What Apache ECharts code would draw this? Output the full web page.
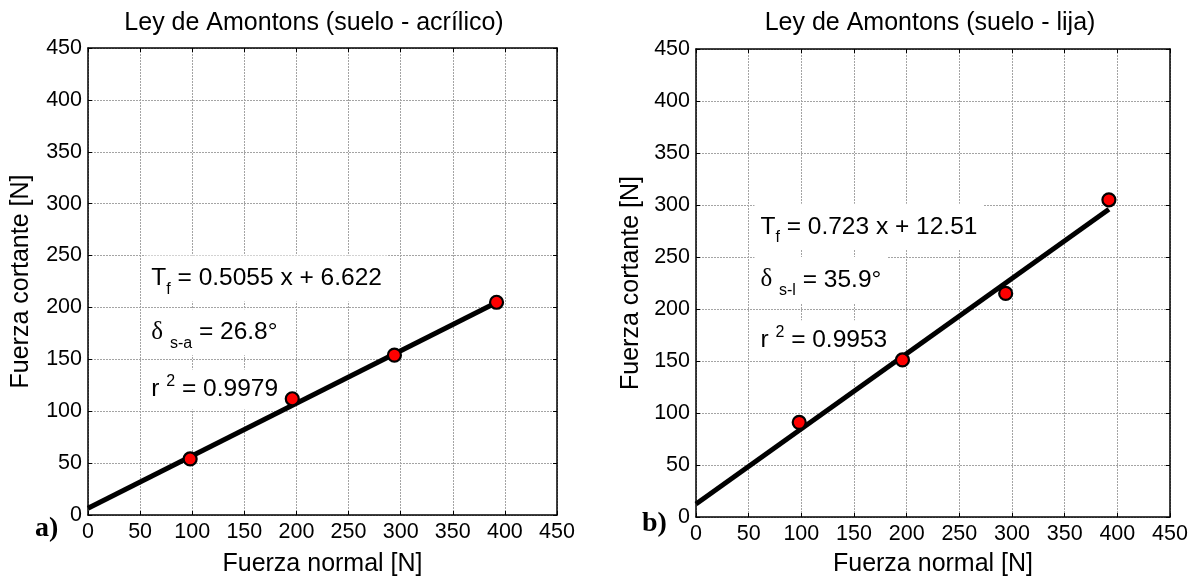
<!DOCTYPE html>
<html><head><meta charset="utf-8">
<script src="https://cdn.jsdelivr.net/npm/echarts@6/dist/echarts.min.js"></script>
<style>html,body{margin:0;padding:0;background:#fff}#c{width:1198px;height:582px}</style>
</head><body><div id="c"></div>
<script>
// ---------------- data ----------------
const forceNormal = [98, 196, 294, 392];
const shearAcrilico = [54, 112, 154, 205];
const shearLija = [91, 151, 215, 305];
const fitX = [0, 392];
const fitAcrilico = [6.6, 204.8];
const fitLija = [12.5, 296.0];
const titles = ['Ley de Amontons (suelo - acrílico)', 'Ley de Amontons (suelo - lija)'];
const xName = 'Fuerza normal [N]';
const yName = 'Fuerza cortante [N]';
const axisMin = 0, axisMax = 450, axisStep = 50;
const panelTags = ['a)', 'b)'];
const eqAcrilico = ['0.5055 x + 6.622', 's-a', '26.8°', '0.9979'];
const eqLija = ['0.723 x + 12.51', 's-l', '35.9°', '0.9953'];

// ---------------- layout / style ----------------
const FONT = "'Liberation Sans', Arial, sans-serif";
const SERIF = "'Liberation Serif', 'Times New Roman', serif";
const grids = [
  {left: 88, top: 48, width: 469, height: 468},
  {left: 696, top: 49, width: 474, height: 474}
];
const yNameGap = [54, 52];
const xNameGap = [37, 35];
const gridLineStyle = {color: '#a4a4a4', width: 1, type: [2, 1]};

function axisCommon(gi) {
  return {
    type: 'value', gridIndex: gi, min: axisMin, max: axisMax, interval: axisStep,
    axisLine: {show: true, onZero: false, lineStyle: {color: '#000', width: 1.5}},
    axisTick: {show: true, inside: true, length: 4, lineStyle: {color: '#000', width: 1}},
  };
}
const xAxes = [], yAxes = [];
[0, 1].forEach(gi => {
  xAxes.push(Object.assign(axisCommon(gi), {
    position: 'bottom',
    axisLabel: {fontSize: 21.5, color: '#000', fontFamily: FONT, margin: 6},
    splitLine: {show: true, lineStyle: gridLineStyle},
    name: xName, nameLocation: 'middle', nameGap: xNameGap[gi],
    nameTextStyle: {fontSize: 25, color: '#000', fontFamily: FONT}
  }));
  xAxes.push(Object.assign(axisCommon(gi), {
    position: 'top', axisLabel: {show: false}, splitLine: {show: false}
  }));
  yAxes.push(Object.assign(axisCommon(gi), {
    position: 'left',
    axisLabel: {fontSize: 21.5, color: '#000', fontFamily: FONT, margin: 6},
    splitLine: {show: true, lineStyle: gridLineStyle},
    name: yName, nameLocation: 'middle', nameGap: yNameGap[gi],
    nameTextStyle: {fontSize: 25, color: '#000', fontFamily: FONT}
  }));
  yAxes.push(Object.assign(axisCommon(gi), {
    position: 'right', axisLabel: {show: false}, splitLine: {show: false}
  }));
});

function pairs(xs, ys) { return xs.map((x, i) => [x, ys[i]]); }
const seriesDefs = [
  {fit: fitAcrilico, pts: shearAcrilico},
  {fit: fitLija, pts: shearLija}
];
const series = [];
seriesDefs.forEach((d, gi) => {
  series.push({
    type: 'line', xAxisIndex: gi * 2, yAxisIndex: gi * 2, data: pairs(fitX, d.fit),
    showSymbol: false, symbol: 'none', lineStyle: {color: '#000', width: 5}, z: 3, silent: true
  });
  series.push({
    type: 'scatter', xAxisIndex: gi * 2, yAxisIndex: gi * 2, data: pairs(forceNormal, d.pts),
    symbol: 'circle', symbolSize: 13,
    itemStyle: {color: '#ff0000', borderColor: '#000', borderWidth: 2.2, opacity: 1}, z: 4
  });
});

const chart = echarts.init(document.getElementById('c'), null, {renderer: 'canvas'});
chart.setOption({
  animation: false,
  backgroundColor: '#fff',
  grid: grids.map(g => Object.assign({containLabel: false}, g)),
  xAxis: xAxes, yAxis: yAxes, series: series
});

// ---------------- annotations ----------------
const rich = {
  m: {fontSize: 24.5, fontFamily: FONT, fill: '#000', lineHeight: 38, verticalAlign: 'middle'},
  d: {fontSize: 25, fontFamily: SERIF, fill: '#000', lineHeight: 38, verticalAlign: 'middle'},
  sub: {fontSize: 16, fontFamily: FONT, fill: '#000', verticalAlign: 'bottom'},
  mr: {fontSize: 24.5, fontFamily: FONT, fill: '#000', lineHeight: 32, verticalAlign: 'middle'},
  sup: {fontSize: 16, fontFamily: FONT, fill: '#000', verticalAlign: 'top'}
};
function rows(eq) {
  return [
    '{m|T}{sub|f}{m| = ' + eq[0] + '}',
    '{d|δ}{m| }{sub|' + eq[1] + '}{m| = ' + eq[2] + '}',
    '{mr|r }{sup|2}{mr| = ' + eq[3] + '}'
  ];
}
const annoAnchors = [
  {x: 55, ys: [228, 176, 121]},
  {x: 55.5, ys: [279, 228, 170]}
];
const graphics = [];
[eqAcrilico, eqLija].forEach((eq, gi) => {
  const r = rows(eq);
  annoAnchors[gi].ys.forEach((yv, k) => {
    const p = chart.convertToPixel({gridIndex: gi}, [annoAnchors[gi].x, yv]);
    graphics.push({
      type: 'text', z: 1, x: p[0], y: p[1],
      style: {text: r[k], rich: rich, align: 'left', verticalAlign: 'middle',
              backgroundColor: '#fff', padding: [4, 6, 4, 6], fill: '#000'}
    });
  });
});
const titleCenters = [[314, 23], [930, 23]];
titles.forEach((t, gi) => {
  graphics.push({type: 'text', x: titleCenters[gi][0], y: titleCenters[gi][1],
    style: {text: t, fontSize: 25, fontFamily: FONT, fill: '#000', align: 'center', verticalAlign: 'middle'}});
});
const tagPos = [[35, 529], [642, 524]];
panelTags.forEach((t, gi) => {
  graphics.push({type: 'text', x: tagPos[gi][0], y: tagPos[gi][1],
    style: {text: t, fontSize: 28, fontWeight: 'bold', fontFamily: SERIF, fill: '#000', align: 'left', verticalAlign: 'middle'}});
});
chart.setOption({graphic: graphics});
</script></body></html>
